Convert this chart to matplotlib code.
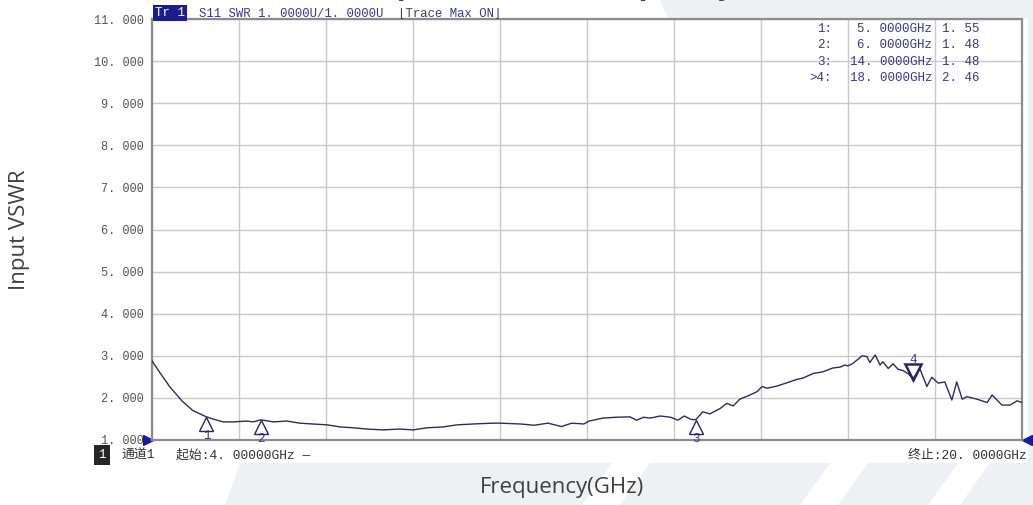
import numpy as np
import matplotlib.pyplot as plt
from matplotlib import transforms
from matplotlib.patches import Polygon

# trace (GHz, VSWR)
freq_ghz = [4.00, 4.15, 4.33, 4.55, 4.75, 5.00, 5.12, 5.31, 5.49, 5.75, 5.86, 6.00, 6.23, 6.48,
            6.72, 6.96, 7.22, 7.46, 7.70, 7.95, 8.25, 8.56, 8.80, 9.06, 9.35, 9.61, 9.90, 10.27,
            10.40, 10.78, 11.03, 11.28, 11.53, 11.72, 11.94, 12.04, 12.29, 12.53, 12.79, 12.91,
            13.04, 13.16, 13.35, 13.54, 13.67, 13.79, 13.91, 14.00, 14.13, 14.26, 14.45, 14.57,
            14.69, 14.81, 15.00, 15.13, 15.22, 15.31, 15.49, 15.68, 15.86, 15.97, 16.16, 16.34,
            16.52, 16.65, 16.74, 16.80, 16.89, 17.06, 17.15, 17.20, 17.30, 17.39, 17.44, 17.54,
            17.63, 17.72, 17.81, 17.90, 18.00, 18.12, 18.25, 18.34, 18.46, 18.58, 18.71, 18.80,
            18.90, 18.99, 19.17, 19.36, 19.45, 19.63, 19.78, 19.91, 20.00]
vswr = [2.88, 2.59, 2.26, 1.93, 1.70, 1.55, 1.50, 1.43, 1.43, 1.45, 1.43, 1.48, 1.43, 1.45,
        1.40, 1.38, 1.36, 1.31, 1.29, 1.26, 1.24, 1.26, 1.24, 1.29, 1.31, 1.36, 1.38, 1.40,
        1.40, 1.38, 1.35, 1.40, 1.32, 1.40, 1.38, 1.45, 1.52, 1.54, 1.55, 1.47,
        1.54, 1.52, 1.57, 1.54, 1.47, 1.57, 1.49, 1.48, 1.67, 1.62, 1.75, 1.87,
        1.81, 1.97, 2.07, 2.15, 2.27, 2.23, 2.28, 2.36, 2.44, 2.47, 2.58, 2.62,
        2.71, 2.73, 2.78, 2.76, 2.82, 3.00, 2.98, 2.84, 3.02, 2.78, 2.86, 2.70,
        2.81, 2.68, 2.65, 2.58, 2.46, 2.70, 2.27, 2.49, 2.35, 2.38, 1.95, 2.38,
        1.97, 2.03, 1.97, 1.89, 2.07, 1.83, 1.83, 1.93, 1.89]

marker_ids = ["1", "2", "3", "4"]
marker_freq = [5.0, 6.0, 14.0, 18.0]
marker_vswr = [1.55, 1.48, 1.48, 2.46]
active_marker = "4"

y_ticks = np.arange(1, 12)
x_grid = np.linspace(4, 20, 11)

W, H = 1033, 505
MONO = ["Liberation Mono", "DejaVu Sans Mono"]
MONO_CJK = ["Liberation Mono", "Noto Sans CJK SC"]
NAVY = "#3a3a80"

fig = plt.figure(figsize=(W / 100, H / 100), dpi=100)


def fx(x):
    return x / W


def fy(y):
    return 1 - y / H


# pale slanted bands of the slide background
bands = [
    [(240, 463), (612, 463), (582, 505), (225, 505)],
    [(650, 463), (830, 463), (800, 505), (620, 505)],
    [(868, 463), (958, 463), (928, 505), (838, 505)],
    [(990, 463), (1033, 463), (1033, 505), (960, 505)],
    [(660, 0), (1033, 0), (1033, 18), (668, 18)],
    [(1028, 18), (1033, 18), (1033, 463), (1028, 463)],
]
for b in bands:
    fig.patches.append(Polygon([(fx(a), fy(c)) for a, c in b], closed=True,
                               transform=fig.transFigure, facecolor="#eff0f3",
                               edgecolor="none", zorder=-1))

ax = fig.add_axes([fx(152), fy(440), (1022 - 152) / W, (440 - 19) / H])
ax.set_xlim(4, 20)
ax.set_ylim(1, 11)
ax.set_xticks(x_grid)
ax.set_yticks(y_ticks)
ax.set_yticklabels([f"{v:.3f}".replace(".", ". ") for v in y_ticks],
                   fontfamily=MONO, fontsize=8.6, color="#555555")
ax.tick_params(length=0, labelbottom=False, pad=6)
ax.grid(True, color="#c9c9c9", lw=1)
ax.set_axisbelow(True)
for s in ax.spines.values():
    s.set_color("#8c8c8c")
    s.set_linewidth(1.6)

ax.plot(freq_ghz, vswr, color="#2c2c60", lw=1.0, zorder=3)

# marker triangles and their numbers
for mid, f, v in zip(marker_ids, marker_freq, marker_vswr):
    if mid == active_marker:
        tr = transforms.offset_copy(ax.transData, fig=fig, y=7, units="dots")
        ax.plot([f], [v], marker="v", ms=11, mfc="none", mec="#26265a", mew=1.8,
                transform=tr, clip_on=False, zorder=4)
        ax.annotate(mid, (f, v), xytext=(0, 19), textcoords="offset pixels",
                    ha="center", va="center", fontsize=9, color=NAVY,
                    fontfamily=MONO, annotation_clip=False)
    else:
        tr = transforms.offset_copy(ax.transData, fig=fig, y=-7, units="dots")
        ax.plot([f], [v], marker="^", ms=10, mfc="none", mec="#26265a", mew=1.0,
                transform=tr, clip_on=False, zorder=4)
        ax.annotate(mid, (f, v), xytext=(0, -19), textcoords="offset pixels",
                    ha="center", va="center", fontsize=9, color=NAVY,
                    fontfamily=MONO, annotation_clip=False)

# reference level arrows on both edges
ax.plot([4], [1], marker=">", ms=7, color="#1a1aa8", clip_on=False,
        transform=transforms.offset_copy(ax.transData, fig=fig, x=-4, units="dots"))
ax.plot([20], [1], marker="<", ms=7, color="#1a1aa8", clip_on=False,
        transform=transforms.offset_copy(ax.transData, fig=fig, x=5, units="dots"))

# header line
fig.text(fx(155), fy(13), "Tr 1", color="white", fontfamily=MONO, fontsize=9,
         ha="left", va="center",
         bbox=dict(boxstyle="square,pad=0.15", fc="#1c1c8c", ec="none"))
fig.text(fx(199), fy(13), "S11 SWR 1. 0000U/1. 0000U  \u230aTrace Max ON\u230b",
         color=NAVY, fontfamily=MONO, fontsize=8.8, ha="left", va="center")

# marker table
row_y = [29, 45, 62, 78]
for mid, f, v, ry in zip(marker_ids, marker_freq, marker_vswr, row_y):
    tag = (">" if mid == active_marker else "") + mid + ":"
    fig.text(fx(832), fy(ry), tag, color=NAVY, fontfamily=MONO, fontsize=9,
             ha="right", va="center")
    fig.text(fx(932), fy(ry), f"{f:.4f}GHz".replace(".", ". "), color=NAVY,
             fontfamily=MONO, fontsize=9, ha="right", va="center")
    fig.text(fx(942), fy(ry), f"{v:.2f}".replace(".", ". "), color=NAVY,
             fontfamily=MONO, fontsize=9, ha="left", va="center")

# status bar
fig.text(fx(102), fy(455), "1", color="white", fontfamily=MONO, fontsize=9,
         ha="center", va="center",
         bbox=dict(boxstyle="square,pad=0.35", fc="#262626", ec="none"))
fig.text(fx(122), fy(455), "通道1", color="#333333", fontfamily=MONO_CJK,
         fontsize=9.3, ha="left", va="center")
fig.text(fx(176), fy(455), "起始:4. 00000GHz —", color="#333333", fontfamily=MONO_CJK,
         fontsize=9.3, ha="left", va="center")
fig.text(fx(1027), fy(455), "终止:20. 0000GHz", color="#333333", fontfamily=MONO_CJK,
         fontsize=9.3, ha="right", va="center")

# slide title: in the source only its descenders peek in at the top edge
fig.text(fx(551), fy(-6), "Input VSWR vs Frequency", fontfamily=["Open Sans", "DejaVu Sans"],
         fontsize=21, fontweight="bold", color="#404040", ha="center", va="baseline")
fig.text(fx(20), fy(230), "Input VSWR", fontfamily=["Open Sans", "DejaVu Sans"],
         fontsize=16, color="#404040", rotation=90, ha="center", va="center")
fig.text(fx(562), fy(487), "Frequency(GHz)", fontfamily=["Open Sans", "DejaVu Sans"],
         fontsize=16, color="#404040", ha="center", va="center")

fig.savefig("out.png", dpi=100)
